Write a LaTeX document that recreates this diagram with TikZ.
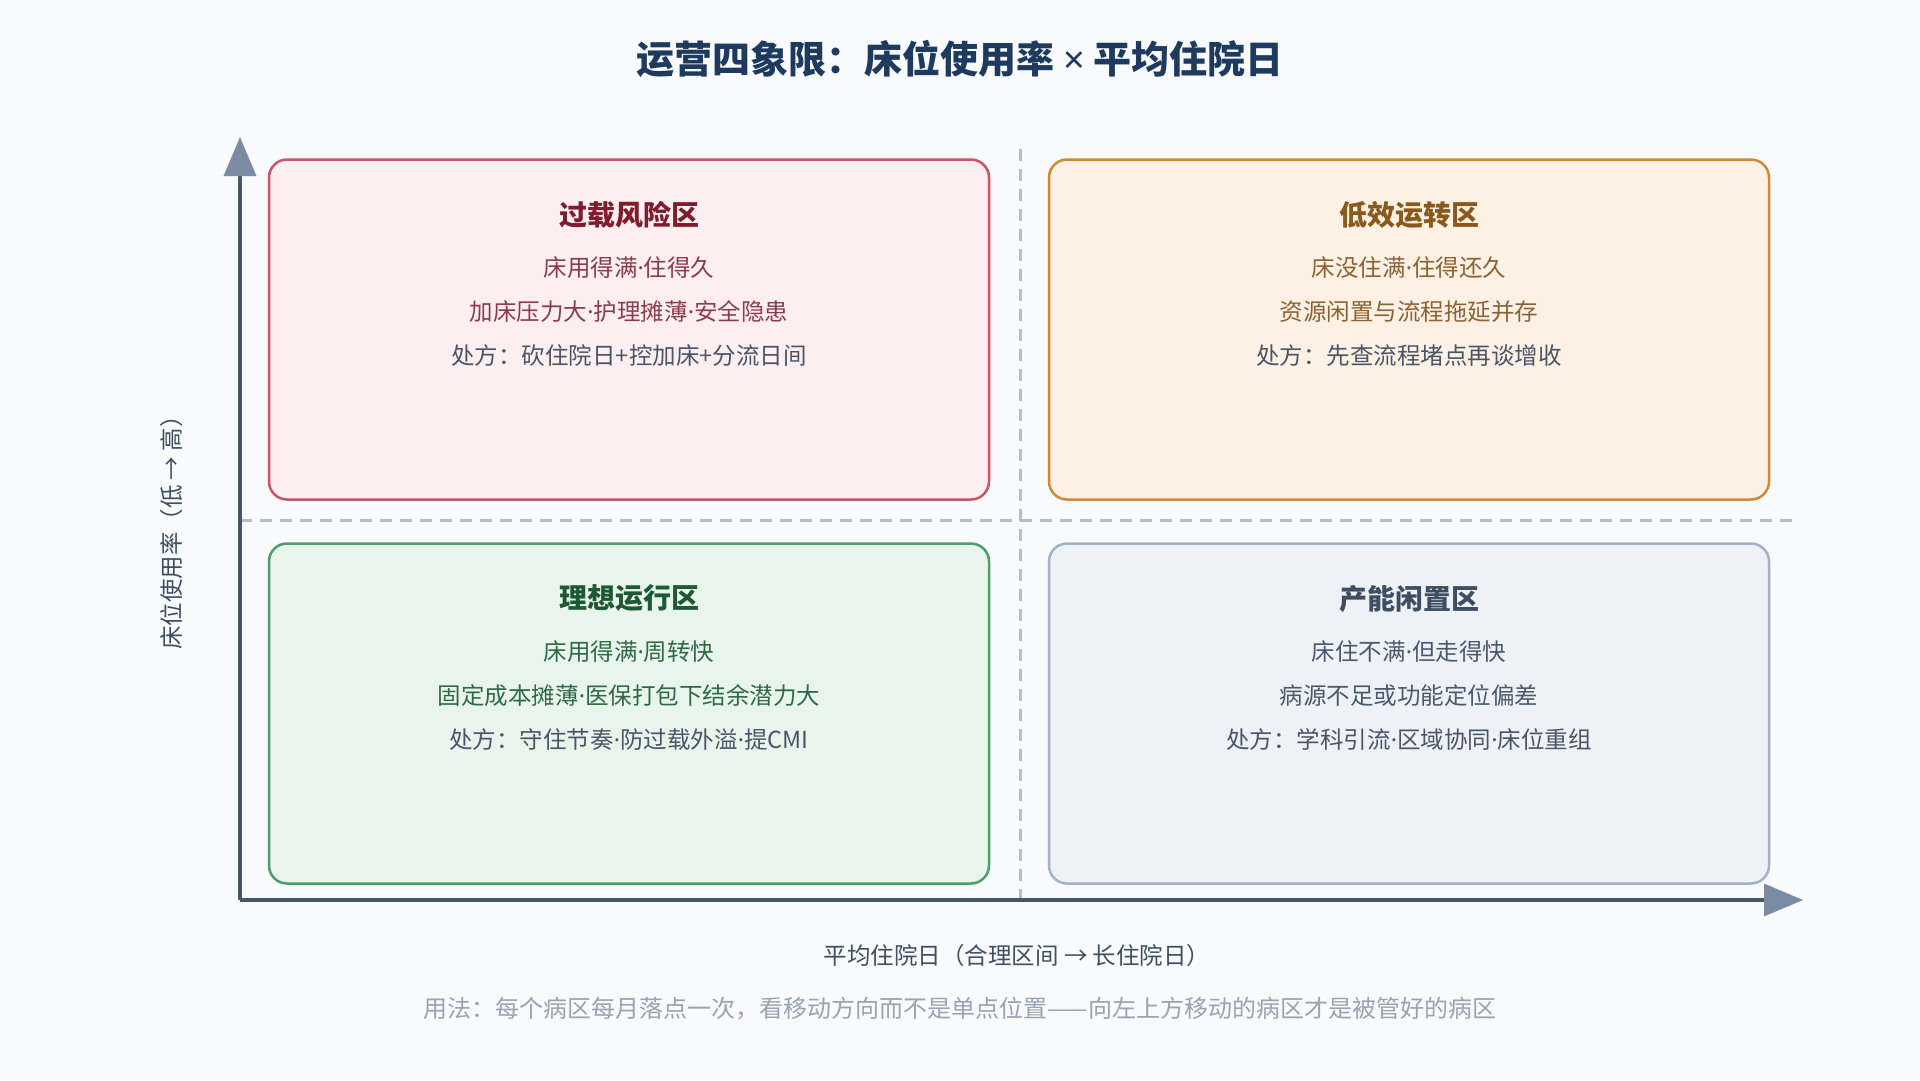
\documentclass[tikz,border=0pt]{standalone}
\usepackage{fontspec}
\setmainfont{Noto Sans CJK SC}
\newfontfamily\dotfont{Noto Sans}
\newcommand{\sepdot}{{\dotfont ·}}
\usetikzlibrary{arrows.meta,positioning}

\definecolor{pagebg}{HTML}{F8FAFC}
\definecolor{headink}{HTML}{1E3A5F}
\definecolor{axisink}{HTML}{475569}
\definecolor{axistip}{HTML}{7B8BA1}
\definecolor{gridink}{HTML}{B4BECB}
\definecolor{rxink}{HTML}{4A5568}
\definecolor{labelink}{HTML}{3F4F63}
\definecolor{noteink}{HTML}{98A3B3}
% quadrant colours
\definecolor{riskline}{HTML}{C95468}
\definecolor{riskfill}{HTML}{FDEFF0}
\definecolor{riskhead}{HTML}{7F1D2D}
\definecolor{risktext}{HTML}{8C3C4A}
\definecolor{slowline}{HTML}{D08A35}
\definecolor{slowfill}{HTML}{FDF0E4}
\definecolor{slowhead}{HTML}{8A5A1C}
\definecolor{slowtext}{HTML}{8D6233}
\definecolor{idealline}{HTML}{4E9E6C}
\definecolor{idealfill}{HTML}{E9F5EC}
\definecolor{idealhead}{HTML}{1D5A33}
\definecolor{idealtext}{HTML}{2E6A45}
\definecolor{idleline}{HTML}{A3B2C6}
\definecolor{idlefill}{HTML}{EEF2F7}
\definecolor{idlehead}{HTML}{3E4E63}
\definecolor{idletext}{HTML}{4A5A6E}

\begin{document}
\begin{tikzpicture}[x=1pt,y=-1pt,node distance=44pt,
  zone/.style={draw,rounded corners=18pt,line width=2.5pt,minimum width=720pt,minimum height=340pt},
  zone title/.style={font=\fontsize{28}{32}\selectfont\bfseries},
  zone line/.style={font=\fontsize{23.5}{28}\selectfont},
  axis label/.style={font=\fontsize{23.5}{28}\selectfont,text=labelink},
  grid line/.style={gridink,line width=3pt,dash pattern=on 12pt off 8pt},
  axis/.style={axisink,line width=3.5pt,-{Triangle[length=39pt,width=32pt,color=axistip]}}]
  \fill[pagebg] (0,0) rectangle (1920,1080);
  \useasboundingbox (0,0) rectangle (1920,1080);

  \node[font=\fontsize{38}{44}\selectfont\bfseries,text=headink] (chart_title) at (960,59) {运营四象限：床位使用率 {\dotfont ×} 平均住院日};

  % dashed split lines and axes
  \coordinate (origin) at (240,900);
  \coordinate (y_top) at (240,137);
  \coordinate (x_end) at (1803,900);
  \coordinate (split_top) at (1020,149);
  \coordinate (split_bot) at (1020,900);
  \coordinate (split_left) at (240,520);
  \coordinate (split_right) at (1794,520);
  \draw[grid line] (split_top) -- (split_bot);
  \draw[grid line] (split_left) -- (split_right);
  \draw[axis] (origin) -- (y_top);
  \draw[axis] (origin) -- (x_end);

  % quadrants
  \node[zone,draw=riskline,fill=riskfill] (risk_box) at (629,329.5) {};
  \node[zone,draw=slowline,fill=slowfill] (slow_box) [right of=risk_box,node distance=780pt] {};
  \node[zone,draw=idealline,fill=idealfill] (ideal_box) [below of=risk_box,node distance=384pt] {};
  \node[zone,draw=idleline,fill=idlefill] (idle_box) [right of=ideal_box,node distance=780pt] {};

  \node[zone title,text=riskhead] (risk_t) [above of=risk_box,node distance=115pt] {过载风险区};
  \node[zone line,text=risktext] (risk_a) [below of=risk_t,node distance=53pt] {床用得满\sepdot 住得久};
  \node[zone line,text=risktext] (risk_b) [below of=risk_a] {加床压力大\sepdot 护理摊薄\sepdot 安全隐患};
  \node[zone line,text=rxink] (risk_c) [below of=risk_b] {处方：砍住院日+控加床+分流日间};

  \node[zone title,text=slowhead] (slow_t) [above of=slow_box,node distance=115pt] {低效运转区};
  \node[zone line,text=slowtext] (slow_a) [below of=slow_t,node distance=53pt] {床没住满\sepdot 住得还久};
  \node[zone line,text=slowtext] (slow_b) [below of=slow_a] {资源闲置与流程拖延并存};
  \node[zone line,text=rxink] (slow_c) [below of=slow_b] {处方：先查流程堵点再谈增收};

  \node[zone title,text=idealhead] (ideal_t) [above of=ideal_box,node distance=115pt] {理想运行区};
  \node[zone line,text=idealtext] (ideal_a) [below of=ideal_t,node distance=53pt] {床用得满\sepdot 周转快};
  \node[zone line,text=idealtext] (ideal_b) [below of=ideal_a] {固定成本摊薄\sepdot 医保打包下结余潜力大};
  \node[zone line,text=rxink] (ideal_c) [below of=ideal_b] {处方：守住节奏\sepdot 防过载外溢\sepdot 提CMI};

  \node[zone title,text=idlehead] (idle_t) [above of=idle_box,node distance=115pt] {产能闲置区};
  \node[zone line,text=idletext] (idle_a) [below of=idle_t,node distance=53pt] {床住不满\sepdot 但走得快};
  \node[zone line,text=idletext] (idle_b) [below of=idle_a] {病源不足或功能定位偏差};
  \node[zone line,text=rxink] (idle_c) [below of=idle_b] {处方：学科引流\sepdot 区域协同\sepdot 床位重组};

  % axis captions
  \node[axis label,rotate=90] (y_label) at (172,527) {床位使用率（低 → 高）};
  \node[axis label] (x_label) at (1017,956) {平均住院日（合理区间 → 长住院日）};
  \node[font=\fontsize{24}{28}\selectfont,text=noteink] (usage_note) at (960,1009) {用法：每个病区每月落点一次，看移动方向而不是单点位置——向左上方移动的病区才是被管好的病区};
\end{tikzpicture}
\end{document}
